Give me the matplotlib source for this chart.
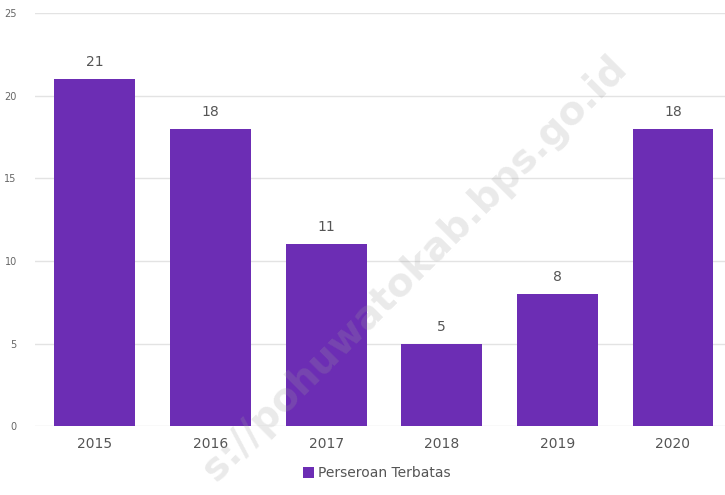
import matplotlib
matplotlib.use("Agg")
import matplotlib.pyplot as plt

years = ["2015", "2016", "2017", "2018", "2019", "2020"]
values = [21, 18, 11, 5, 8, 18]
series_name = "Perseroan Terbatas"
yticks = [0, 5, 10, 15, 20, 25]

plt.rcParams['font.family'] = ['DejaVu Sans']

fig = plt.figure(figsize=(7.25, 4.95), dpi=100)
ax = fig.add_axes([0.048, 0.139, 0.952, 0.835])

x = list(range(len(years)))
bars = ax.bar(x, values, width=0.70, color="#6C2DB4", zorder=3, label=series_name)
for xi, v in zip(x, values):
    ax.text(xi, v + 0.6, str(v), ha="center", va="bottom", fontsize=10, color="#555555")

ax.set_xlim(-0.52, 5.45)
ax.set_ylim(0, 25)
ax.set_yticks(yticks)
ax.set_yticklabels([str(t) for t in yticks], fontsize=7, color="#666666")
ax.set_xticks(x)
ax.set_xticklabels(years, fontsize=10, color="#555555")
ax.tick_params(axis="both", length=0)
ax.tick_params(axis="y", pad=13)
ax.tick_params(axis="x", pad=8)
ax.grid(axis="y", color="#e3e3e3", linewidth=1, zorder=0)
for s in ax.spines.values():
    s.set_visible(False)

fig.legend(handles=[bars], labels=[series_name], loc="lower center",
           bbox_to_anchor=(0.52, 0.005), frameon=False, fontsize=10,
           handlelength=0.8, handleheight=0.8, handletextpad=0.3,
           labelcolor="#555555")

fig.text(0.572, 0.458, "s://pohuwatokab.bps.go.id", rotation=45, ha="center", va="center",
         fontsize=28, fontweight="bold", color="#9e9e9e", alpha=0.22, family="DejaVu Sans")

fig.savefig("out.png", dpi=100)
